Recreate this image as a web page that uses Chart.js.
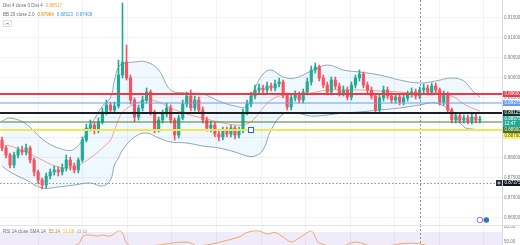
<!DOCTYPE html>
<html>
<head>
<meta charset="utf-8">
<script src="https://cdn.jsdelivr.net/npm/chart.js@4.4.1/dist/chart.umd.min.js"></script>
<style>
  html, body { margin: 0; padding: 0; background: #fff; }
  #wrap { position: relative; width: 520px; height: 245px; overflow: hidden; }
  #price { position: absolute; left: 0; top: 0; }
  #rsi { position: absolute; left: 0; top: 225px; }
</style>
</head>
<body>
<div id="wrap">
  <canvas id="price" width="520" height="225"></canvas>
  <canvas id="rsi" width="520" height="20"></canvas>
</div>
<script>
// candles, one per bar index
const candleIndex = Array.from({length: 120}, (_, i) => i);
const openPrice = [
  .88450,.88250,.88075,.87825,.88075,.88200,.88150,.88250,.87950,.87650,
  .87450,.87325,.87550,.87650,.87700,.87650,.87750,.87950,.87800,.87700,
  .87950,.88450,.88750,.88825,.88700,.88900,.89150,.89325,.89200,.89300,
  .90075,.90400,.90000,.89450,.89025,.89250,.89450,.89650,.89150,.88700,
  .88950,.89100,.89250,.88950,.88575,.89000,.89350,.89550,.89250,.89450,
  .89200,.88950,.88750,.88825,.88600,.88525,.88700,.88600,.88750,.88575,
  .88700,.89150,.89350,.89550,.89700,.89750,.89700,.89800,.89750,.89850,
  .89900,.89575,.89275,.89500,.89575,.89450,.89650,.89900,.90200,.90275,
  .90000,.89825,.89650,.89950,.89800,.89625,.89700,.89525,.89825,.90000,
  .90100,.89825,.89700,.89550,.89200,.89500,.89700,.89550,.89450,.89525,
  .89400,.89500,.89600,.89650,.89550,.89700,.89750,.89650,.89800,.89700,
  .89400,.89600,.89200,.88950,.89050,.88950,.89000,.88925,.89025,.88950];
const highPrice = [
  .88525,.88300,.88125,.88150,.88275,.88300,.88350,.88300,.88000,.87700,
  .87500,.87625,.87725,.87800,.87775,.87850,.88075,.88025,.87875,.88000,
  .88525,.88850,.88950,.88900,.89000,.89250,.89450,.89400,.89400,.90450,
  .91875,.90825,.90075,.89500,.89325,.89550,.89750,.89700,.89200,.89025,
  .89200,.89375,.89325,.89000,.89075,.89450,.89650,.89700,.89550,.89525,
  .89275,.89025,.88925,.88900,.88675,.88775,.88775,.88825,.88800,.88775,
  .89225,.89450,.89650,.89825,.89850,.89825,.89900,.89875,.89950,.90000,
  .89950,.89625,.89575,.89675,.89650,.89725,.90000,.90300,.90375,.90325,
  .90075,.89900,.90025,.90025,.89875,.89800,.89775,.89900,.90075,.90200,
  .90150,.89900,.89775,.89600,.89575,.89800,.89775,.89625,.89600,.89600,
  .89575,.89675,.89750,.89725,.89775,.89850,.89825,.89875,.89875,.89750,
  .89675,.89650,.89250,.89125,.89125,.89075,.89075,.89100,.89100,.89050];
const lowPrice = [
  .88175,.88000,.87750,.87750,.88000,.88075,.88075,.87875,.87550,.87350,
  .87225,.87250,.87475,.87575,.87550,.87575,.87675,.87700,.87625,.87625,
  .87900,.88400,.88675,.88600,.88625,.88850,.89075,.89125,.89125,.89250,
  .90000,.89950,.89350,.88900,.88950,.89175,.89375,.89075,.88625,.88650,
  .88875,.89025,.88875,.88450,.88500,.88950,.89275,.89175,.89175,.89125,
  .88875,.88675,.88650,.88525,.88425,.88450,.88525,.88525,.88475,.88500,
  .88625,.89075,.89275,.89475,.89625,.89600,.89625,.89675,.89675,.89775,
  .89500,.89200,.89200,.89425,.89375,.89375,.89575,.89825,.90125,.89925,
  .89750,.89575,.89575,.89725,.89550,.89550,.89450,.89450,.89750,.89925,
  .89750,.89625,.89475,.89125,.89125,.89425,.89475,.89375,.89375,.89325,
  .89325,.89425,.89525,.89475,.89475,.89625,.89575,.89575,.89625,.89325,
  .89325,.89125,.88875,.88875,.88875,.88875,.88850,.88850,.88875,.88875];
const closePrice = [
  .88250,.88075,.87825,.88075,.88200,.88150,.88250,.87950,.87650,.87450,
  .87325,.87550,.87650,.87700,.87650,.87750,.87950,.87800,.87700,.87950,
  .88450,.88750,.88825,.88700,.88900,.89150,.89325,.89200,.89300,.90075,
  .90400,.90000,.89450,.89025,.89250,.89450,.89650,.89150,.88700,.88950,
  .89100,.89250,.88950,.88575,.89000,.89350,.89550,.89250,.89450,.89200,
  .88950,.88750,.88825,.88600,.88525,.88700,.88600,.88750,.88575,.88700,
  .89150,.89350,.89550,.89700,.89750,.89700,.89800,.89750,.89850,.89900,
  .89575,.89275,.89500,.89575,.89450,.89650,.89900,.90200,.90275,.90000,
  .89825,.89650,.89950,.89800,.89625,.89700,.89525,.89825,.90000,.90100,
  .89825,.89700,.89550,.89200,.89500,.89700,.89550,.89450,.89525,.89400,
  .89500,.89600,.89650,.89550,.89700,.89750,.89650,.89800,.89700,.89400,
  .89600,.89200,.88950,.89050,.88950,.89000,.88925,.89025,.88950,.88975];

// Bollinger band (20, 2) at these bars
const bbIndex = [0,2,6,10,14,18,22,25,27,28,29,30,33,36,39,42,46,50,54,58,61,63,65,67,70,73,77,81,85,89,94,99,104,108,112,115,117,119];
const bbUpper = [.88925,.89000,.88850,.88475,.88250,.88225,.88800,.89300,.89500,.89950,.90275,.90350,.90400,.90400,.90200,.89700,.89625,.89600,.89425,.89300,
  .89300,.89750,.90100,.90200,.90025,.90000,.90175,.90325,.90200,.90150,.90075,.89950,.89875,.89925,.90000,.89925,.89700,.89525];
const bbBasis = [.88325,.88300,.88150,.87950,.87775,.87775,.88000,.88250,.88450,.88700,.88950,.89150,.89350,.89450,.89400,.89250,.89100,.89000,.88900,.88825,
  .88850,.89000,.89250,.89450,.89575,.89600,.89625,.89700,.89700,.89700,.89675,.89650,.89600,.89625,.89550,.89350,.89250,.89175];
const bbLower = [.87800,.87650,.87450,.87250,.87275,.87325,.87375,.87300,.87450,.87825,.88000,.88200,.88525,.88625,.88500,.88400,.88375,.88300,.88250,.88150,
  .88050,.88050,.88200,.88700,.89100,.89125,.89050,.89075,.89125,.89150,.89200,.89250,.89325,.89375,.89150,.88775,.88725,.88700];

// drawn horizontal levels
const levelPrice = [0.89600, 0.89375, 0.89125, 0.88900, 0.88700];
const levelColor = ['#f23645', '#6c9cf0', '#1c1f22', '#4d7f2f', '#f4e652'];
const levelWidth = [2, 1.2, 2, 1.2, 2];
const levelTag = ['#f23645', '#6c9cf0', '#17302c', '#3f7326', '#fff176'];
const dottedPrice = 0.87375;
const markerBar = 62, markerPrice = 0.88700;
const sessionBar = 104;

// RSI 14
const rsiIndex = [0,10,15,19,20,21,24,25,27,29,30,31,33,37,46,49,59,61,64,66,68,70,72,74,77,78,79,84,88,93,102,109,119];
const rsiValue = [40,30,38,46,60,64,62,64,62,72,68,48,40,42,50,42,60,69,72,66,69,60,50,58,72,60,48,40,50,40,48,38,34];
const rsiTicks = [80, 50];

const UP = '#22ab94', DOWN = '#f7525f';
const FONT = '"Liberation Sans", Arial, sans-serif';
const gridBars = [9, 20.1, 31.2, 42.3, 53.4, 64.5, 75.6, 86.7, 97.8, 108.9, 120];
const candleColor = candleIndex.map(i => closePrice[i] >= openPrice[i] ? UP : DOWN);

function xScaleOpts() {
  return {
    type: 'linear', min: -0.5, max: 124.5, offset: false,
    ticks: { display: false },
    grid: { color: '#f0f2f7', drawTicks: false, offset: false },
    border: { display: false },
    afterBuildTicks: s => { s.ticks = gridBars.map(v => ({ value: v })); }
  };
}

function tag(ctx, top, lines, bg, fg) {
  const h = lines.length * 5 + 1;
  ctx.fillStyle = bg;
  ctx.fillRect(503, top, 17, h);
  ctx.fillStyle = fg;
  ctx.font = '4.5px ' + FONT;
  ctx.textAlign = 'left';
  ctx.textBaseline = 'middle';
  lines.forEach((t, k) => ctx.fillText(t, 504.5, top + 3 + k * 5));
  return h;
}

const overlay = {
  id: 'overlay',
  afterDatasetsDraw(chart) {
    const ctx = chart.ctx, a = chart.chartArea;
    const x = chart.scales.x, y = chart.scales.y;
    ctx.save();
    ctx.beginPath();
    ctx.rect(a.left, a.top, a.right - a.left, a.bottom - a.top);
    ctx.clip();
    // session divider
    ctx.strokeStyle = '#8f929c';
    ctx.lineWidth = 1;
    ctx.setLineDash([2, 2]);
    const sx = Math.round(x.getPixelForValue(sessionBar)) + 0.5;
    ctx.beginPath(); ctx.moveTo(sx, a.top); ctx.lineTo(sx, a.bottom); ctx.stroke();
    const dy = Math.round(y.getPixelForValue(dottedPrice)) + 0.5;
    ctx.setLineDash([1.5, 2]);
    ctx.beginPath(); ctx.moveTo(a.left, dy); ctx.lineTo(a.right, dy); ctx.stroke();
    ctx.setLineDash([]);
    // horizontal levels
    levelPrice.forEach((p, k) => {
      const py = y.getPixelForValue(p);
      ctx.strokeStyle = levelColor[k];
      ctx.lineWidth = levelWidth[k];
      ctx.beginPath(); ctx.moveTo(a.left, py); ctx.lineTo(a.right, py); ctx.stroke();
    });
    // marker
    const mx = x.getPixelForValue(markerBar), my = y.getPixelForValue(markerPrice);
    ctx.fillStyle = '#fff';
    ctx.strokeStyle = '#2962ff';
    ctx.lineWidth = 1;
    ctx.fillRect(mx - 2.5, my - 2.5, 5, 5);
    ctx.strokeRect(mx - 2.5, my - 2.5, 5, 5);
    ctx.restore();
  },
  afterDraw(chart) {
    const ctx = chart.ctx, a = chart.chartArea;
    const x = chart.scales.x, y = chart.scales.y;
    ctx.save();
    // price tags on the axis, pushed down when they collide
    const tags = levelPrice.map((p, k) => ({ p, lines: [p.toFixed(5)], bg: levelTag[k], fg: k === 4 ? '#5a5300' : '#fff' }));
    const last = closePrice[closePrice.length - 1];
    tags.push({ p: last, lines: [last.toFixed(5), '12:47'], bg: '#22ab94', fg: '#fff' });
    tags.sort((m, n) => n.p - m.p);
    let next = -99;
    tags.forEach(t => {
      const h = t.lines.length * 5 + 1;
      const top = Math.max(y.getPixelForValue(t.p) - h / 2, next);
      next = top + tag(ctx, top, t.lines, t.bg, t.fg);
    });
    const dy = y.getPixelForValue(dottedPrice);
    tag(ctx, dy - 3, [dottedPrice.toFixed(5)], '#131722', '#fff');
    ctx.fillStyle = '#2a2e39';
    ctx.fillRect(496, dy - 3, 6, 6);
    ctx.strokeStyle = '#fff';
    ctx.lineWidth = 0.8;
    ctx.beginPath();
    ctx.moveTo(497.5, dy); ctx.lineTo(500.5, dy);
    ctx.moveTo(499, dy - 1.5); ctx.lineTo(499, dy + 1.5);
    ctx.stroke();

    // legends
    ctx.font = '4.5px ' + FONT;
    ctx.textBaseline = 'middle';
    ctx.textAlign = 'left';
    const row = (yy, parts) => {
      let xx = 3;
      parts.forEach(([t, c]) => { ctx.fillStyle = c; ctx.fillText(t, xx, yy); xx += ctx.measureText(t).width + 3; });
    };
    row(5.5, [['Dist 4 close 0 Dist 4', '#6a6d78'], ['0.88517', '#f0a23c']]);
    row(15, [['BB 20 close 2.0', '#6a6d78'], ['0.87964', '#f57c00'], ['0.88523', '#3d9fd6'], ['0.87408', '#3d9fd6']]);
    ctx.strokeStyle = '#d1d4dc';
    ctx.lineWidth = 0.8;
    ctx.strokeRect(3.5, 20.5, 8, 6);
    ctx.strokeStyle = '#555';
    ctx.beginPath(); ctx.moveTo(6, 24.5); ctx.lineTo(7.5, 23); ctx.lineTo(9, 24.5); ctx.stroke();

    // event badges
    const ey = a.bottom - 5;
    const e1 = x.getPixelForValue(119), e2 = x.getPixelForValue(120.6);
    ctx.fillStyle = '#fff';
    ctx.strokeStyle = '#9c6ade';
    ctx.lineWidth = 1;
    ctx.beginPath(); ctx.arc(e1, ey, 2.8, 0, Math.PI * 2); ctx.fill(); ctx.stroke();
    ctx.fillStyle = '#2b7bb9';
    ctx.beginPath(); ctx.arc(e2, ey, 2.8, 0, Math.PI * 2); ctx.fill();
    ctx.restore();
  }
};

new Chart(document.getElementById('price'), {
  type: 'bar',
  data: {
    datasets: [
      { type: 'line', data: bbIndex.map((b, k) => ({ x: b, y: bbUpper[k] })), borderColor: '#92a8b2', borderWidth: 1,
        pointRadius: 0, tension: 0.4, fill: '+1', backgroundColor: 'rgba(33,150,243,0.07)', order: 5 },
      { type: 'line', data: bbIndex.map((b, k) => ({ x: b, y: bbLower[k] })), borderColor: '#92a8b2', borderWidth: 1,
        pointRadius: 0, tension: 0.4, fill: false, order: 5 },
      { type: 'line', data: bbIndex.map((b, k) => ({ x: b, y: bbBasis[k] })), borderColor: '#f39a80', borderWidth: 0.9,
        pointRadius: 0, tension: 0.4, fill: false, order: 4 },
      { data: candleIndex.map(i => ({ x: i, y: [lowPrice[i], highPrice[i]] })), backgroundColor: candleColor,
        barThickness: 1, grouped: false, order: 2 },
      { data: candleIndex.map(i => ({ x: i, y: [openPrice[i], closePrice[i]] })), backgroundColor: candleColor,
        barThickness: 2.5, minBarLength: 1, grouped: false, order: 1 }
    ]
  },
  options: {
    responsive: false, animation: false, events: [],
    layout: { padding: 0 },
    plugins: { legend: { display: false }, tooltip: { enabled: false } },
    scales: {
      x: xScaleOpts(),
      y: {
        position: 'right', min: 0.86325, max: 0.9195, beginAtZero: false,
        ticks: { stepSize: 0.005, includeBounds: false, padding: 2, color: '#7a7d88',
                 font: { size: 4.5, family: FONT }, callback: v => v.toFixed(5) },
        grid: { color: '#f0f2f7', drawTicks: false },
        border: { color: '#d6d9e0' },
        afterFit: s => { s.width = 18; s.paddingTop = 0; s.paddingBottom = 0; }
      }
    }
  },
  plugins: [overlay]
});

const rsiPane = {
  id: 'rsiPane',
  beforeDatasetsDraw(chart) {
    const ctx = chart.ctx, a = chart.chartArea, y = chart.scales.y, x = chart.scales.x;
    ctx.save();
    const t = y.getPixelForValue(70), b = Math.min(a.bottom, y.getPixelForValue(30));
    ctx.fillStyle = 'rgba(126,87,194,0.12)';
    ctx.fillRect(a.left, t, a.right - a.left, b - t);
    ctx.strokeStyle = '#8f929c';
    ctx.setLineDash([2, 2]);
    const sx = Math.round(x.getPixelForValue(sessionBar)) + 0.5;
    ctx.beginPath(); ctx.moveTo(sx, a.top); ctx.lineTo(sx, a.bottom); ctx.stroke();
    ctx.restore();
  },
  afterDraw(chart) {
    const ctx = chart.ctx;
    ctx.save();
    ctx.strokeStyle = '#e0e3eb';
    ctx.beginPath(); ctx.moveTo(0, 0.5); ctx.lineTo(520, 0.5); ctx.stroke();
    ctx.font = '4.5px ' + FONT;
    ctx.textBaseline = 'middle';
    ctx.textAlign = 'left';
    let xx = 3;
    [['RSI 14 close SMA 14', '#6a6d78'], ['55.14', '#c98a3a'], ['51.08', '#e0c53a'], ['\u2205 \u2205', '#8a8d96']].forEach(([t, c]) => {
      ctx.fillStyle = c; ctx.fillText(t, xx, 6.5); xx += ctx.measureText(t).width + 3;
    });
    ctx.restore();
  }
};

new Chart(document.getElementById('rsi'), {
  type: 'line',
  data: {
    datasets: [{ data: rsiIndex.map((b, k) => ({ x: b, y: rsiValue[k] })), borderColor: '#f0a868', borderWidth: 1,
                 pointRadius: 0, tension: 0.35, fill: false }]
  },
  options: {
    responsive: false, animation: false, events: [],
    layout: { padding: 0 },
    plugins: { legend: { display: false }, tooltip: { enabled: false } },
    scales: {
      x: xScaleOpts(),
      y: {
        position: 'right', min: 44, max: 84,
        afterBuildTicks: s => { s.ticks = rsiTicks.map(v => ({ value: v })); },
        ticks: { padding: 2, color: '#7a7d88', font: { size: 4.5, family: FONT }, callback: v => v.toFixed(2) },
        grid: { display: false, drawTicks: false },
        border: { color: '#d6d9e0' },
        afterFit: s => { s.width = 18; s.paddingTop = 0; s.paddingBottom = 0; }
      }
    }
  },
  plugins: [rsiPane]
});
</script>
</body>
</html>
